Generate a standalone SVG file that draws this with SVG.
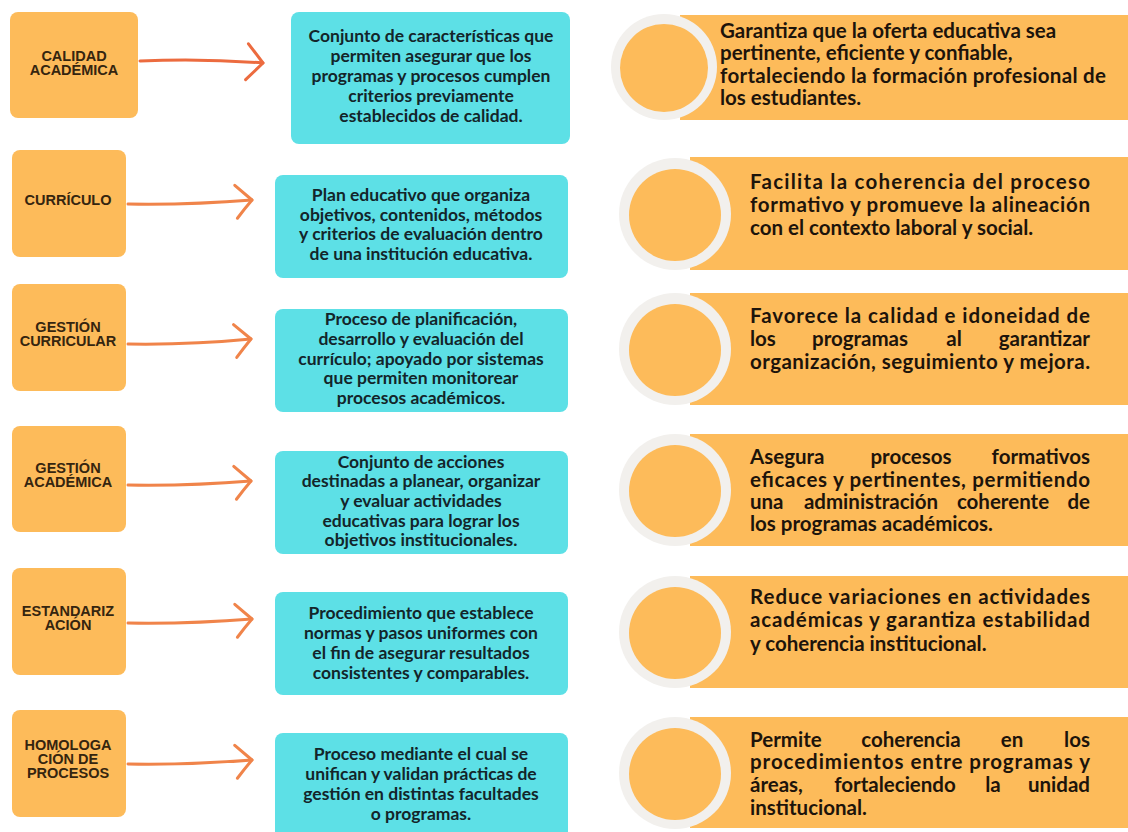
<svg xmlns="http://www.w3.org/2000/svg" width="1128" height="832" viewBox="0 0 1128 832">
  <style>
    .term { fill: #FDBB5A; }
    .def { fill: #5DE0E6; }
    .band { fill: #FDBB5A; }
    .ring { fill: #F2F0ED; }
    .dot { fill: #FDBB5A; }
    .lbl { font-family: "Liberation Sans", Arial, sans-serif; font-weight: 700; font-size: 14.5px; fill: #35250f; text-anchor: middle; }
    .dtx { font-family: Lato, "Noto Sans", sans-serif; font-weight: 700; font-size: 17.5px; fill: #13252a; text-anchor: middle; }
    .btx { font-family: Lato, "Noto Sans", sans-serif; font-weight: 700; font-size: 20.5px; fill: #1d140b; }
    .mid { text-anchor: middle; }
    .end { text-anchor: end; }
    .arrow { fill: none; stroke: #F0844A; stroke-width: 3; stroke-linecap: round; stroke-linejoin: round; }
    .arrow.red { stroke: #EC6B3F; }
  </style>
  <defs>
    <marker id="chevR" markerUnits="userSpaceOnUse" markerWidth="22" markerHeight="40" refX="17" refY="19" orient="auto" overflow="visible">
      <path d="M1,1 Q9,10 17,19 Q9,28 1,37" fill="none" stroke="#EC6B3F" stroke-width="3" stroke-linecap="round" stroke-linejoin="round"/>
    </marker>
    <marker id="chevO" markerUnits="userSpaceOnUse" markerWidth="22" markerHeight="40" refX="17" refY="17" orient="auto" overflow="visible">
      <path d="M1,1 Q9,9 17,17 Q9,25 1,34" fill="none" stroke="#F0844A" stroke-width="3" stroke-linecap="round" stroke-linejoin="round"/>
    </marker>
  </defs>

  <rect width="1128" height="832" fill="#FFFFFF"/>

  <!-- term boxes -->
  <g id="term-calidad">
    <rect class="term" x="10" y="12" width="128" height="106" rx="8"/>
    <text class="lbl" x="74" y="61">CALIDAD</text>
    <text class="lbl" x="74" y="75">ACADÉMICA</text>
  </g>
  <g id="term-curriculo">
    <rect class="term" x="12" y="150" width="114" height="107" rx="8"/>
    <text class="lbl" x="68" y="205">CURRÍCULO</text>
  </g>
  <g id="term-gestion-curricular">
    <rect class="term" x="12" y="284" width="114" height="107" rx="8"/>
    <text class="lbl" x="68" y="332">GESTIÓN</text>
    <text class="lbl" x="68" y="346">CURRICULAR</text>
  </g>
  <g id="term-gestion-academica">
    <rect class="term" x="12" y="426" width="114" height="106" rx="8"/>
    <text class="lbl" x="68" y="473">GESTIÓN</text>
    <text class="lbl" x="68" y="487">ACADÉMICA</text>
  </g>
  <g id="term-estandarizacion">
    <rect class="term" x="12" y="568" width="114" height="107" rx="8"/>
    <text class="lbl" x="68" y="616">ESTANDARIZ</text>
    <text class="lbl" x="68" y="630">ACIÓN</text>
  </g>
  <g id="term-homologacion">
    <rect class="term" x="12" y="710" width="114" height="107" rx="8"/>
    <text class="lbl" x="68" y="750">HOMOLOGA</text>
    <text class="lbl" x="68" y="764">CIÓN DE</text>
    <text class="lbl" x="68" y="778">PROCESOS</text>
  </g>

  <!-- connectors -->
  <g id="connectors">
    <path class="arrow red" d="M140,61 Q200,58 263,63" marker-end="url(#chevR)"/>
    <path class="arrow" d="M128,204 Q190,205 252,200" marker-end="url(#chevO)"/>
    <path class="arrow" d="M128,344 Q190,345 251,339" marker-end="url(#chevO)"/>
    <path class="arrow" d="M128,485 Q190,486 251,481" marker-end="url(#chevO)"/>
    <path class="arrow" d="M128,623 Q190,624 252,619" marker-end="url(#chevO)"/>
    <path class="arrow" d="M128,764 Q190,765 252,760" marker-end="url(#chevO)"/>
  </g>

  <!-- definitions -->
  <g id="def-calidad">
    <rect class="def" x="291" y="12" width="279" height="132" rx="8"/>
    <text class="dtx" x="431" y="42">Conjunto de características que</text>
    <text class="dtx" x="431" y="62">permiten asegurar que los</text>
    <text class="dtx" x="431" y="82">programas y procesos cumplen</text>
    <text class="dtx" x="431" y="102">criterios previamente</text>
    <text class="dtx" x="431" y="122">establecidos de calidad.</text>
  </g>
  <g id="def-curriculo">
    <rect class="def" x="275" y="175" width="293" height="103" rx="8"/>
    <text class="dtx" x="421" y="201">Plan educativo que organiza</text>
    <text class="dtx" x="421" y="221">objetivos, contenidos, métodos</text>
    <text class="dtx" x="421" y="240">y criterios de evaluación dentro</text>
    <text class="dtx" x="421" y="260">de una institución educativa.</text>
  </g>
  <g id="def-gestion-curricular">
    <rect class="def" x="275" y="309" width="293" height="103" rx="8"/>
    <text class="dtx" x="421" y="325">Proceso de planificación,</text>
    <text class="dtx" x="421" y="345">desarrollo y evaluación del</text>
    <text class="dtx" x="421" y="365">currículo; apoyado por sistemas</text>
    <text class="dtx" x="421" y="384">que permiten monitorear</text>
    <text class="dtx" x="421" y="404">procesos académicos.</text>
  </g>
  <g id="def-gestion-academica">
    <rect class="def" x="275" y="451" width="293" height="103" rx="8"/>
    <text class="dtx" x="421" y="468">Conjunto de acciones</text>
    <text class="dtx" x="421" y="487">destinadas a planear, organizar</text>
    <text class="dtx" x="421" y="507">y evaluar actividades</text>
    <text class="dtx" x="421" y="527">educativas para lograr los</text>
    <text class="dtx" x="421" y="546">objetivos institucionales.</text>
  </g>
  <g id="def-estandarizacion">
    <rect class="def" x="275" y="592" width="293" height="103" rx="8"/>
    <text class="dtx" x="421" y="619">Procedimiento que establece</text>
    <text class="dtx" x="421" y="639">normas y pasos uniformes con</text>
    <text class="dtx" x="421" y="659">el fin de asegurar resultados</text>
    <text class="dtx" x="421" y="679">consistentes y comparables.</text>
  </g>
  <g id="def-homologacion">
    <rect class="def" x="275" y="733" width="293" height="110" rx="8"/>
    <text class="dtx" x="421" y="760">Proceso mediante el cual se</text>
    <text class="dtx" x="421" y="780">unifican y validan prácticas de</text>
    <text class="dtx" x="421" y="800">gestión en distintas facultades</text>
    <text class="dtx" x="421" y="820">o programas.</text>
  </g>

  <!-- benefit bands -->
  <g id="benefit-calidad">
    <rect class="band" x="680" y="15" width="448" height="105"/>
    <circle class="ring" cx="664" cy="67" r="53"/>
    <circle class="dot" cx="664" cy="68" r="44"/>
    <text class="btx" x="720" y="38">Garantiza que la oferta educativa sea</text>
    <text class="btx" x="720" y="60">pertinente, eficiente y confiable,</text>
    <text class="btx" x="720" y="83" textLength="386" lengthAdjust="spacing">fortaleciendo la formación profesional de</text>
    <text class="btx" x="720" y="105">los estudiantes.</text>
  </g>
  <g id="benefit-curriculo">
    <rect class="band" x="690" y="157" width="438" height="113"/>
    <circle class="ring" cx="675" cy="214" r="56"/>
    <circle class="dot" cx="675" cy="215" r="46"/>
    <text class="btx" x="750" y="189" textLength="340" lengthAdjust="spacing">Facilita la coherencia del proceso</text>
    <text class="btx" x="750" y="212" textLength="340" lengthAdjust="spacing">formativo y promueve la alineación</text>
    <text class="btx" x="750" y="235">con el contexto laboral y social.</text>
  </g>
  <g id="benefit-gestion-curricular">
    <rect class="band" x="690" y="293" width="438" height="112"/>
    <circle class="ring" cx="675" cy="349" r="56"/>
    <circle class="dot" cx="675" cy="350" r="46"/>
    <text class="btx" x="750" y="323" textLength="340" lengthAdjust="spacing">Favorece la calidad e idoneidad de</text>
    <text class="btx" x="750" y="346">los</text>
    <text class="btx mid" x="860" y="346">programas</text>
    <text class="btx mid" x="954" y="346">al</text>
    <text class="btx end" x="1090" y="346">garantizar</text>
    <text class="btx" x="750" y="369" textLength="340" lengthAdjust="spacing">organización, seguimiento y mejora.</text>
  </g>
  <g id="benefit-gestion-academica">
    <rect class="band" x="690" y="434" width="438" height="112"/>
    <circle class="ring" cx="675" cy="490" r="56"/>
    <circle class="dot" cx="675" cy="491" r="46"/>
    <text class="btx" x="750" y="464">Asegura</text>
    <text class="btx mid" x="911" y="464">procesos</text>
    <text class="btx end" x="1090" y="464">formativos</text>
    <text class="btx" x="750" y="487" textLength="340" lengthAdjust="spacing">eficaces y pertinentes, permitiendo</text>
    <text class="btx" x="750" y="509">una</text>
    <text class="btx mid" x="871" y="509">administración</text>
    <text class="btx mid" x="1003" y="509">coherente</text>
    <text class="btx end" x="1090" y="509">de</text>
    <text class="btx" x="750" y="531">los programas académicos.</text>
  </g>
  <g id="benefit-estandarizacion">
    <rect class="band" x="690" y="576" width="438" height="112"/>
    <circle class="ring" cx="675" cy="632" r="56"/>
    <circle class="dot" cx="675" cy="633" r="46"/>
    <text class="btx" x="750" y="604" textLength="340" lengthAdjust="spacing">Reduce variaciones en actividades</text>
    <text class="btx" x="750" y="627" textLength="340" lengthAdjust="spacing">académicas y garantiza estabilidad</text>
    <text class="btx" x="750" y="651">y coherencia institucional.</text>
  </g>
  <g id="benefit-homologacion">
    <rect class="band" x="690" y="717" width="438" height="111"/>
    <circle class="ring" cx="675" cy="773" r="56"/>
    <circle class="dot" cx="675" cy="774" r="46"/>
    <text class="btx" x="750" y="747">Permite</text>
    <text class="btx mid" x="911" y="747">coherencia</text>
    <text class="btx mid" x="1012" y="747">en</text>
    <text class="btx end" x="1090" y="747">los</text>
    <text class="btx" x="750" y="769" textLength="340" lengthAdjust="spacing">procedimientos entre programas y</text>
    <text class="btx" x="750" y="792">áreas,</text>
    <text class="btx mid" x="895" y="792">fortaleciendo</text>
    <text class="btx mid" x="993" y="792">la</text>
    <text class="btx end" x="1090" y="792">unidad</text>
    <text class="btx" x="750" y="815">institucional.</text>
  </g>
</svg>
